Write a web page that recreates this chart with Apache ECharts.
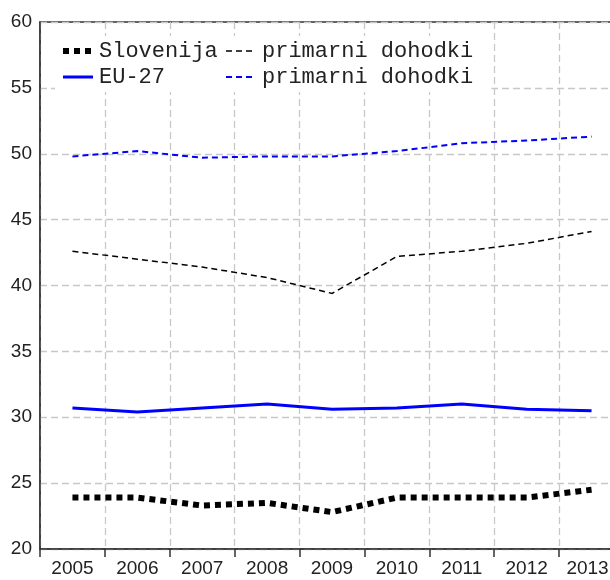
<!DOCTYPE html>
<html>
<head>
<meta charset="utf-8">
<script src="https://cdn.jsdelivr.net/npm/echarts@6/dist/echarts.min.js"></script>
<style>
  html, body { margin: 0; padding: 0; background: #fff; }
  #chart { width: 610px; height: 580px; }
</style>
</head>
<body>
<div id="chart"></div>
<script>
var years = ['2005', '2006', '2007', '2008', '2009', '2010', '2011', '2012', '2013'];

// Slovenija
var sloTotal = [23.9, 23.9, 23.3, 23.5, 22.8, 23.9, 23.9, 23.9, 24.5];
var sloPrimary = [42.6, 42.0, 41.4, 40.6, 39.4, 42.2, 42.6, 43.2, 44.1];
// EU-27
var euTotal = [30.7, 30.4, 30.7, 31.0, 30.6, 30.7, 31.0, 30.6, 30.5];
var euPrimary = [49.8, 50.2, 49.7, 49.8, 49.8, 50.2, 50.8, 51.0, 51.3];

var yTicks = { min: 20, max: 60, step: 5 };

var monoFont = "'Courier New', 'Liberation Mono', 'DejaVu Sans Mono', monospace";
var sansFont = "Arial, 'Liberation Sans', sans-serif";
var gridDash = [7, 4];
var dotDash = [6, 5];

function lineSeries(name, data, color, width, dash) {
	return {
		name: name,
		type: 'line',
		data: data,
		symbol: 'none',
		showSymbol: false,
		animation: false,
		lineStyle: { color: color, width: width, type: dash, cap: 'butt', join: 'miter' },
		itemStyle: { color: color }
	};
}

function legendItem(name, color, width, dash) {
	return {
		name: name,
		itemStyle: { opacity: 0 },
		lineStyle: { width: width, type: dash, color: color, cap: 'butt', opacity: 1 }
	};
}

function legendBox(left, items) {
	return {
		orient: 'vertical',
		left: left,
		top: 36,
		padding: [4, 5, 4, 5],
		itemGap: 4,
		itemWidth: 30,
		itemHeight: 14,
		backgroundColor: '#fff',
		selectedMode: false,
		itemStyle: { opacity: 0 },
		textStyle: { fontFamily: monoFont, fontSize: 22, color: '#222', lineHeight: 22, padding: [0, 0, 0, 1] },
		data: items
	};
}

var chart = echarts.init(document.getElementById('chart'), null, { renderer: 'canvas' });

var option = {
	backgroundColor: '#fff',
	animation: false,
	grid: {
		left: 40, top: 22, bottom: 31, width: 584,
		outerBoundsMode: 'none',
		containLabel: false,
		show: true, borderColor: '#333', borderWidth: 1.5, backgroundColor: 'transparent'
	},
	legend: [
		legendBox(55, [
			legendItem('Slovenija', '#000', 6, dotDash),
			legendItem('EU-27', '#0000ff', 3, 'solid')
		]),
		legendBox(220, [
			legendItem('primarni dohodki', '#000', 1.5, [6, 4]),
			legendItem('primarni dohodki ', '#0000ff', 2, [6, 4])
		])
	],
	xAxis: {
		type: 'category',
		data: years,
		boundaryGap: true,
		axisLine: { lineStyle: { color: '#333', width: 1.5 } },
		axisTick: { show: true, length: 8, inside: false, interval: 0, lineStyle: { color: '#333', width: 1.5 } },
		axisLabel: {
			fontFamily: sansFont, fontSize: 19, color: '#222', margin: 10, interval: 0, hideOverlap: false,
			formatter: function (v, i) {
				return i === years.length - 1 ? '{last|' + v + '}' : v;
			},
			rich: { last: { fontFamily: sansFont, fontSize: 19, color: '#222', padding: [0, 8, 0, 0] } }
		},
		splitLine: { show: true, interval: 0, lineStyle: { color: '#c8c8c8', width: 1.3, type: gridDash } }
	},
	yAxis: {
		type: 'value',
		min: yTicks.min,
		max: yTicks.max,
		interval: yTicks.step,
		axisLine: { show: true, lineStyle: { color: '#333', width: 1.5 } },
		axisTick: { show: false },
		axisLabel: { fontFamily: sansFont, fontSize: 19, color: '#222', margin: 8, padding: [4, 0, 0, 0] },
		splitLine: { show: true, lineStyle: { color: '#c8c8c8', width: 1.3, type: gridDash } }
	},
	series: [
		lineSeries('primarni dohodki ', euPrimary, '#0000ff', 2, [6, 4]),
		lineSeries('primarni dohodki', sloPrimary, '#000', 1.5, [6, 4]),
		lineSeries('EU-27', euTotal, '#0000ff', 3, 'solid'),
		lineSeries('Slovenija', sloTotal, '#000', 6, dotDash)
	]
};

chart.setOption(option);
</script>
</body>
</html>
